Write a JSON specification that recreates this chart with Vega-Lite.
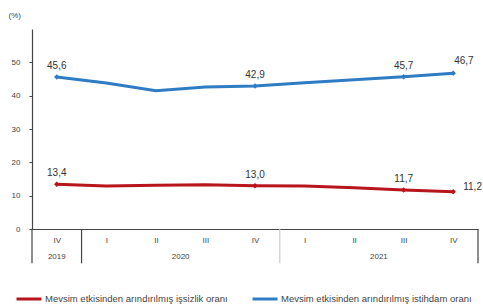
{
  "$schema": "https://vega.github.io/schema/vega-lite/v6.json",
  "width": 446,
  "height": 200,
  "autosize": "none",
  "padding": {"left": 32, "top": 29, "right": 5, "bottom": 75},
  "background": "white",
  "config": {"font": "Liberation Sans", "view": {"stroke": null}},
  "datasets": {
    "series": [
      {"i": 0, "series": "Mevsim etkisinden arındırılmış işsizlik oranı", "v": 13.4, "lab": "13,4"},
      {"i": 1, "series": "Mevsim etkisinden arındırılmış işsizlik oranı", "v": 12.9, "lab": ""},
      {"i": 2, "series": "Mevsim etkisinden arındırılmış işsizlik oranı", "v": 13.1, "lab": ""},
      {"i": 3, "series": "Mevsim etkisinden arındırılmış işsizlik oranı", "v": 13.3, "lab": ""},
      {"i": 4, "series": "Mevsim etkisinden arındırılmış işsizlik oranı", "v": 13.0, "lab": "13,0"},
      {"i": 5, "series": "Mevsim etkisinden arındırılmış işsizlik oranı", "v": 12.9, "lab": ""},
      {"i": 6, "series": "Mevsim etkisinden arındırılmış işsizlik oranı", "v": 12.4, "lab": ""},
      {"i": 7, "series": "Mevsim etkisinden arındırılmış işsizlik oranı", "v": 11.7, "lab": "11,7"},
      {"i": 8, "series": "Mevsim etkisinden arındırılmış işsizlik oranı", "v": 11.2, "lab": "11,2"},
      {"i": 0, "series": "Mevsim etkisinden arındırılmış istihdam oranı", "v": 45.6, "lab": "45,6"},
      {"i": 1, "series": "Mevsim etkisinden arındırılmış istihdam oranı", "v": 43.8, "lab": ""},
      {"i": 2, "series": "Mevsim etkisinden arındırılmış istihdam oranı", "v": 41.5, "lab": ""},
      {"i": 3, "series": "Mevsim etkisinden arındırılmış istihdam oranı", "v": 42.6, "lab": ""},
      {"i": 4, "series": "Mevsim etkisinden arındırılmış istihdam oranı", "v": 42.9, "lab": "42,9"},
      {"i": 5, "series": "Mevsim etkisinden arındırılmış istihdam oranı", "v": 43.9, "lab": ""},
      {"i": 6, "series": "Mevsim etkisinden arındırılmış istihdam oranı", "v": 44.8, "lab": ""},
      {"i": 7, "series": "Mevsim etkisinden arındırılmış istihdam oranı", "v": 45.7, "lab": "45,7"},
      {"i": 8, "series": "Mevsim etkisinden arındırılmış istihdam oranı", "v": 46.7, "lab": "46,7"}
    ],
    "years": [
      {"pos": 0, "year": "2019"},
      {"pos": 2.5, "year": "2020"},
      {"pos": 6.5, "year": "2021"}
    ],
    "sepsDark": [
      {"pos": -0.5},
      {"pos": 0.5},
      {"pos": 8.5}
    ],
    "sepsLight": [
      {"pos": 4.5}
    ]
  },
  "encoding": {
    "x": {
      "type": "quantitative",
      "scale": {"domain": [-0.5, 8.5], "nice": false, "zero": false},
      "axis": {
        "title": null, "values": [0, 1, 2, 3, 4, 5, 6, 7, 8],
        "labelExpr": "['IV','I','II','III','IV','I','II','III','IV'][datum.value]",
        "ticks": false, "grid": false, "domainColor": "#444444", "domainWidth": 1.2,
        "labelFontSize": 8, "labelColor": "#444444", "labelPadding": 7, "labelFlush": false
      }
    },
    "y": {
      "type": "quantitative",
      "scale": {"domain": [0, 60], "nice": false},
      "axis": {
        "title": "(%)", "titleAngle": 0, "titleX": -24, "titleY": -14, "titleAlign": "left",
        "titleBaseline": "middle", "titleFontSize": 8, "titleFontWeight": "normal", "titleColor": "#444444",
        "values": [0, 10, 20, 30, 40, 50], "labelOverlap": false, "grid": false, "tickSize": 3, "tickColor": "#444444",
        "domainColor": "#444444", "domainWidth": 1.2, "labelFontSize": 8, "labelColor": "#444444", "labelPadding": 9
      }
    }
  },
  "layer": [
    {
      "data": {"name": "series"},
      "mark": {"type": "line", "strokeWidth": 3},
      "encoding": {
        "x": {"field": "i"},
        "y": {"field": "v"},
        "color": {
          "field": "series", "type": "nominal",
          "scale": {"domain": ["Mevsim etkisinden arındırılmış işsizlik oranı", "Mevsim etkisinden arındırılmış istihdam oranı"], "range": ["#B8141C", "#2E7CC4"]},
          "legend": {
            "orient": "none", "legendX": -17, "legendY": 256, "direction": "horizontal", "columns": 2,
            "title": null, "symbolType": "stroke", "symbolSize": 625, "symbolStrokeWidth": 3,
            "labelFontSize": 9.5, "labelColor": "#444444", "labelLimit": 300, "columnPadding": 18, "labelOffset": 2
          }
        }
      }
    },
    {
      "data": {"name": "sepsDark"},
      "mark": {"type": "rule", "clip": false, "strokeWidth": 1.2, "color": "#444444"},
      "encoding": {
        "x": {"field": "pos"},
        "y": {"datum": 0},
        "y2": {"datum": -10.3}
      }
    },
    {
      "data": {"name": "sepsLight"},
      "mark": {"type": "rule", "clip": false, "strokeWidth": 1.2, "color": "#cccccc"},
      "encoding": {
        "x": {"field": "pos"},
        "y": {"datum": 0},
        "y2": {"datum": -10.3}
      }
    },
    {
      "data": {"name": "years"},
      "mark": {"type": "text", "clip": false, "fontSize": 8, "color": "#444444", "baseline": "middle", "dy": 28},
      "encoding": {
        "x": {"field": "pos"},
        "y": {"datum": 0},
        "text": {"field": "year"}
      }
    },
    {
      "data": {"name": "series"},
      "transform": [{"filter": "datum.lab != ''"}],
      "mark": {"type": "point", "shape": "diamond", "filled": true, "size": 30, "opacity": 1},
      "encoding": {
        "x": {"field": "i"},
        "y": {"field": "v"},
        "color": {"field": "series", "type": "nominal"}
      }
    },
    {
      "data": {"name": "series"},
      "transform": [{"filter": "datum.lab != '' && datum.i < 8"}],
      "mark": {"type": "text", "fontSize": 10, "color": "#333333", "baseline": "bottom", "dy": -6},
      "encoding": {
        "x": {"field": "i"},
        "y": {"field": "v"},
        "text": {"field": "lab"}
      }
    },
    {
      "data": {"name": "series"},
      "transform": [{"filter": "datum.i == 8 && datum.v > 30"}],
      "mark": {"type": "text", "fontSize": 10, "color": "#333333", "baseline": "bottom", "align": "left", "dx": 1, "dy": -7, "clip": false},
      "encoding": {
        "x": {"field": "i"},
        "y": {"field": "v"},
        "text": {"field": "lab"}
      }
    },
    {
      "data": {"name": "series"},
      "transform": [{"filter": "datum.i == 8 && datum.v < 30"}],
      "mark": {"type": "text", "fontSize": 10, "color": "#333333", "baseline": "bottom", "align": "left", "dx": 10, "dy": 0, "clip": false},
      "encoding": {
        "x": {"field": "i"},
        "y": {"field": "v"},
        "text": {"field": "lab"}
      }
    }
  ]
}
